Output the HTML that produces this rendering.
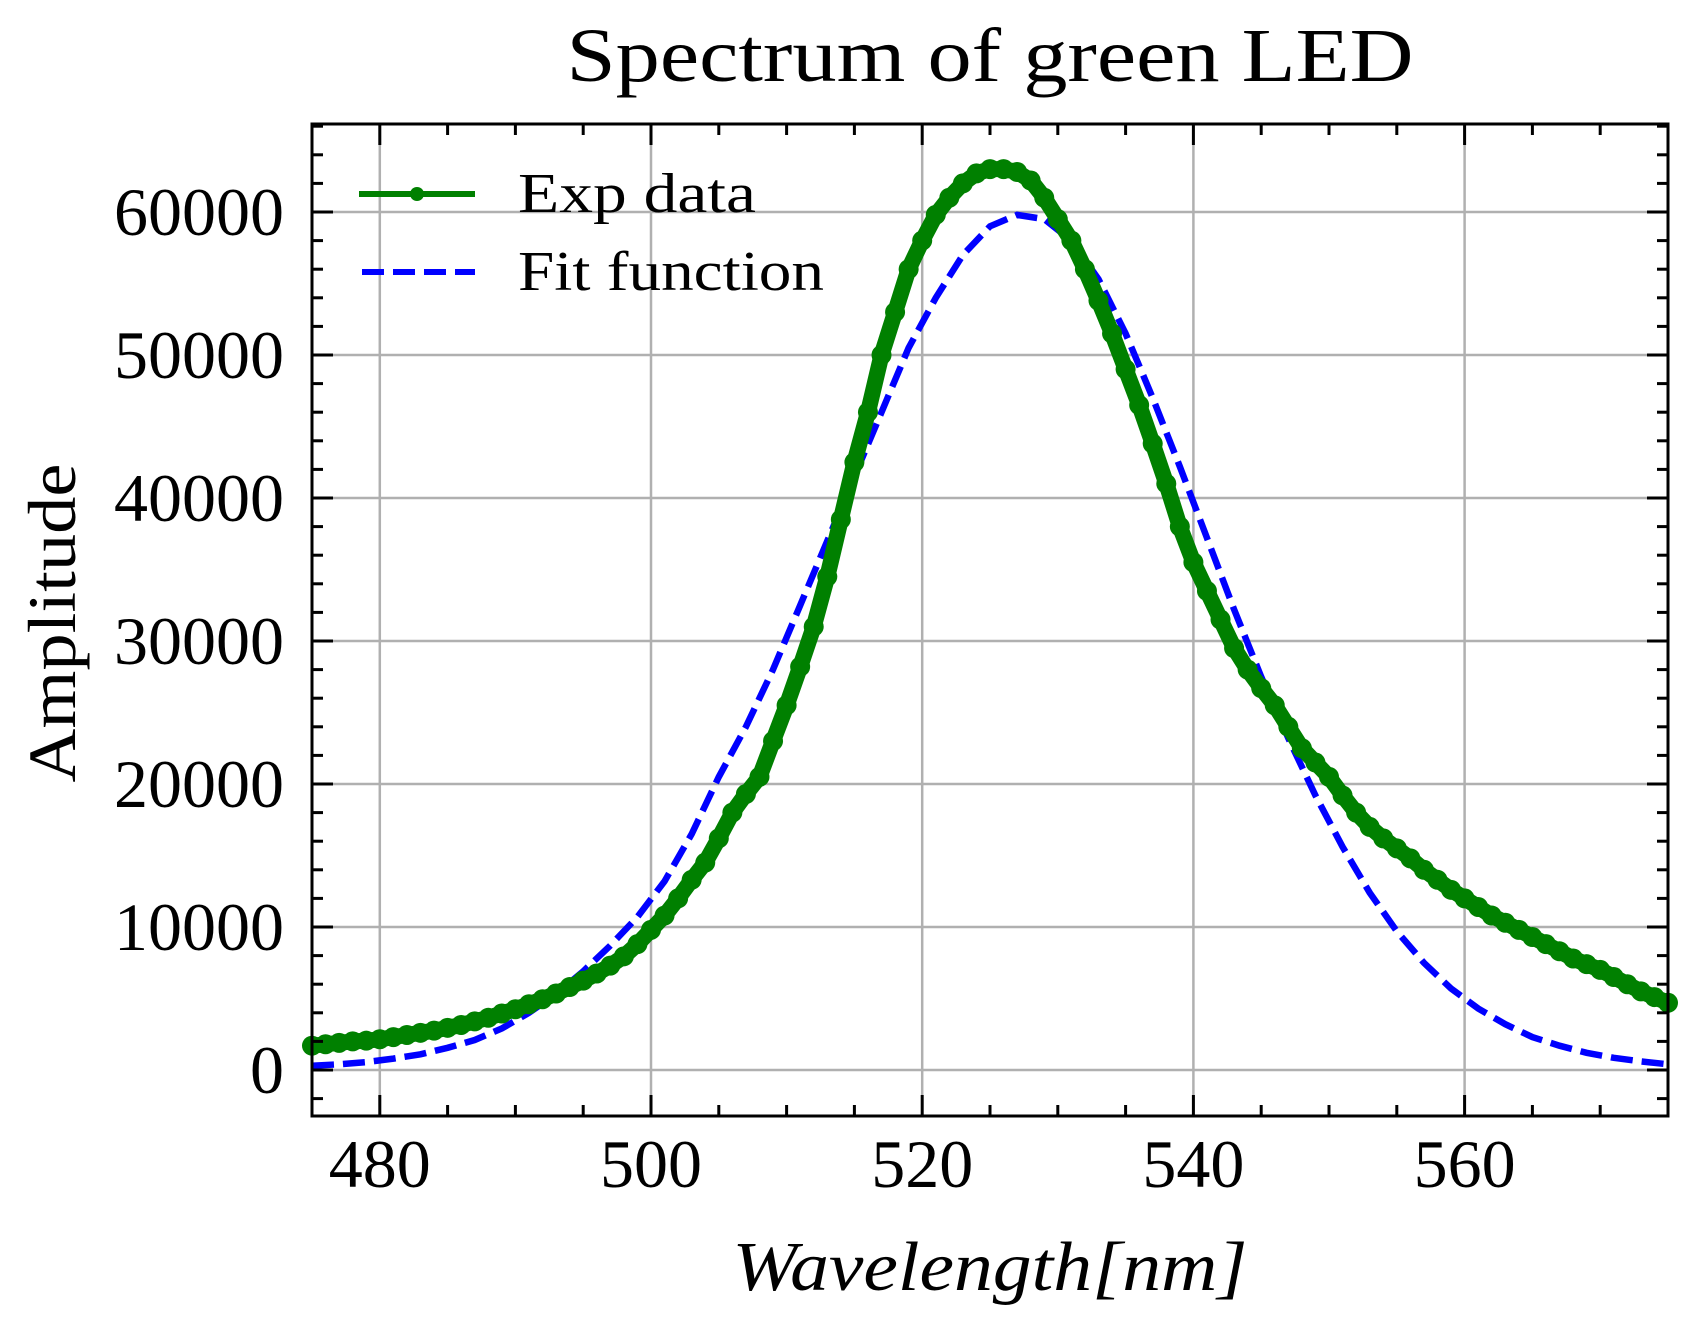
<!DOCTYPE html>
<html><head><meta charset="utf-8"><style>
html,body{margin:0;padding:0;background:#fff}
svg text{font-family:"Liberation Serif",serif;fill:#000}
</style></head><body>
<svg id="chart" width="1692" height="1323" viewBox="0 0 1692 1323" xmlns="http://www.w3.org/2000/svg">
<rect width="1692" height="1323" fill="#fff"/>
<text x="990" y="81" font-size="76" text-anchor="middle" textLength="847" lengthAdjust="spacingAndGlyphs">Spectrum of green LED</text>
<g id="grid"></g>
<g id="fit"></g>
<g id="exp"></g>
<g id="axes"></g>
<text x="990" y="1290" font-size="70" font-style="italic" text-anchor="middle" textLength="515" lengthAdjust="spacingAndGlyphs">Wavelength[nm]</text>
<text transform="translate(75,623) rotate(-90)" font-size="68" text-anchor="middle" textLength="319" lengthAdjust="spacingAndGlyphs">Amplitude</text>
<g>
<line x1="359" y1="194" x2="475" y2="194" stroke="#008000" stroke-width="6"/>
<circle cx="417" cy="194" r="7" fill="#008000"/>
<text x="518" y="212" font-size="56" textLength="238" lengthAdjust="spacingAndGlyphs">Exp data</text>
<line x1="362" y1="272" x2="475" y2="272" stroke="#0000ff" stroke-width="6" stroke-dasharray="22,9"/>
<text x="518" y="290" font-size="56" textLength="306" lengthAdjust="spacingAndGlyphs">Fit function</text>
</g>
</svg>
<script>
const expX = [475,476,477,478,479,480,481,482,483,484,485,486,487,488,489,490,491,492,493,494,495,496,497,498,499,500,501,502,503,504,505,506,507,508,509,510,511,512,513,514,515,516,517,518,519,520,521,522,523,524,525,526,527,528,529,530,531,532,533,534,535,536,537,538,539,540,541,542,543,544,545,546,547,548,549,550,551,552,553,554,555,556,557,558,559,560,561,562,563,564,565,566,567,568,569,570,571,572,573,574,575];
const expY = [1700,1800,1900,2000,2050,2150,2300,2450,2600,2750,2950,3150,3400,3650,3950,4250,4600,4950,5350,5800,6250,6750,7300,7950,8800,9800,10800,12000,13300,14500,16200,18000,19300,20500,23000,25500,28200,31000,34500,38500,42500,46000,50000,53000,56000,58000,59800,61000,62000,62700,63000,63000,62800,62200,61000,59500,58000,56000,53800,51500,49000,46500,43800,41000,38000,35500,33500,31500,29500,28000,26700,25500,24000,22500,21500,20500,19200,18000,17000,16200,15500,14800,14000,13300,12600,12000,11400,10800,10300,9800,9300,8800,8300,7800,7400,7000,6500,6000,5500,5100,4700];
const fitX = [475,477,479,481,483,485,487,489,491,493,495,497,499,501,503,505,507,509,511,513,515,517,519,521,523,525,527,529,531,533,535,537,539,541,543,545,547,549,551,553,555,557,559,561,563,565,567,569,571,573,575];
const fitY = [300,400,550,800,1100,1550,2100,2900,4000,5300,6900,8700,10700,13200,16500,20500,24000,28000,32500,37000,41500,46000,50500,54000,57000,59000,59800,59500,58000,55300,51500,47000,42200,37200,32200,27500,23200,19200,15600,12400,9700,7500,5700,4300,3200,2300,1700,1200,850,600,400];
const xTicks = [480,500,520,540,560];
const xTickLabels = ["480","500","520","540","560"];
const yTicks = [0,10000,20000,30000,40000,50000,60000];
const yTickLabels = ["0","10000","20000","30000","40000","50000","60000"];

const L=312,R=1668,T=124,B=1116;
const xMin=475,xMax=575;
const y0px=1070, perUnit=143/10000;
const xs=v=>L+(v-xMin)/(xMax-xMin)*(R-L);
const ys=v=>y0px-v*perUnit;
const NS="http://www.w3.org/2000/svg";
function mk(tag,attrs,parent){const e=document.createElementNS(NS,tag);for(const k in attrs)e.setAttribute(k,attrs[k]);parent.appendChild(e);return e;}
const grid=document.getElementById('grid'),axes=document.getElementById('axes');
xTicks.forEach((t,i)=>{
  const g=mk('line',{x1:xs(t),x2:xs(t),y1:T,y2:B,stroke:'#b0b0b0','stroke-width':2.5},grid);
  
  
  const lb=mk('text',{x:xs(t),y:1187,'font-size':68,'text-anchor':'middle'},axes);
  lb.textContent=xTickLabels[i];
  
  
});
yTicks.forEach((t,i)=>{
  const g=mk('line',{x1:L,x2:R,y1:ys(t),y2:ys(t),stroke:'#b0b0b0','stroke-width':2.5},grid);
  
  
  const lb=mk('text',{x:284,y:ys(t)+23,'font-size':68,'text-anchor':'end'},axes);
  lb.textContent=yTickLabels[i];
  
  
});
let d='';fitX.forEach((x,i)=>{d+=(i?'L':'M')+xs(x).toFixed(1)+','+ys(fitY[i]).toFixed(1);});
const fp=mk('path',{d:d,fill:'none',stroke:'#0000ff','stroke-width':6.5,'stroke-dasharray':'22,9'},document.getElementById('fit'));


const eg=document.getElementById('exp');
let d2='';expX.forEach((x,i)=>{d2+=(i?'L':'M')+xs(x).toFixed(1)+','+ys(expY[i]).toFixed(1);});
const ep=mk('path',{d:d2,fill:'none',stroke:'#008000','stroke-width':16,'stroke-linejoin':'round','stroke-linecap':'round'},eg);


expX.forEach((x,i)=>{
  const c=mk('circle',{cx:xs(x),cy:ys(expY[i]),r:10,fill:'#008000'},eg);
  
  
});
const fr=mk('rect',{x:L,y:T,width:R-L,height:B-T,fill:'none',stroke:'#000','stroke-width':3},axes);


for(let v=xMin;v<=xMax;v+=5){
  const major=(v%20===0);const len=major?21:11;
  const a=mk('line',{x1:xs(v),x2:xs(v),y1:B,y2:B-len,stroke:'#000','stroke-width':3},axes);
  
  
  const b=mk('line',{x1:xs(v),x2:xs(v),y1:T,y2:T+len,stroke:'#000','stroke-width':3},axes);
  
  
}
for(let v=-2000;v<=66000;v+=2000){
  const major=(v%10000===0);const len=major?21:11;
  const a=mk('line',{x1:L,x2:L+len,y1:ys(v),y2:ys(v),stroke:'#000','stroke-width':3},axes);
  
  
  const b=mk('line',{x1:R,x2:R-len,y1:ys(v),y2:ys(v),stroke:'#000','stroke-width':3},axes);
  
  
}
</script>
</body></html>
